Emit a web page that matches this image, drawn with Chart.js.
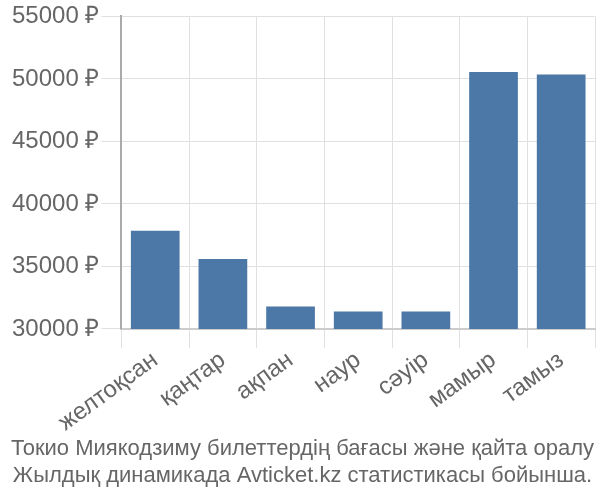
<!DOCTYPE html>
<html>
<head>
<meta charset="utf-8">
<script src="https://cdn.jsdelivr.net/npm/chart.js@4"></script>
<style>
  html, body { margin: 0; padding: 0; background: #fff; }
  #wrap { width: 600px; height: 500px; }
</style>
</head>
<body>
<div id="wrap"><canvas id="chart"></canvas></div>
<script>
const months = ["желтоқсан", "қаңтар", "ақпан", "наур", "сәуір", "мамыр", "тамыз"];
const prices = [37850, 35600, 31800, 31400, 31400, 50550, 50350];
const titleLines = [
  "Токио Миякодзиму билеттердің бағасы және қайта оралу",
  "Жылдық динамикада Avticket.kz статистикасы бойынша.",
];

const TEXT = "#666";
const GRID = "#e0e0e0";

new Chart(document.getElementById("chart"), {
  type: "bar",
  data: {
    labels: months,
    datasets: [
      {
        data: prices,
        backgroundColor: "#4c78a8",
        borderColor: "#4c78a8",
        borderWidth: 0,
        categoryPercentage: 0.9,
        barPercentage: 0.8,
      },
    ],
  },
  options: {
    responsive: true,
    maintainAspectRatio: false,
    animation: false,
    layout: { padding: { left: 10, right: 5, top: 5, bottom: 0 } },
    plugins: {
      legend: { display: false },
      tooltip: { enabled: false },
      title: {
        display: true,
        position: "bottom",
        text: titleLines,
        color: TEXT,
        font: { family: "Liberation Sans", size: 22, weight: "normal", lineHeight: 1.22 },
        padding: { top: 0, bottom: 11 },
      },
    },
    scales: {
      x: {
        grid: { color: GRID, tickLength: 19, offset: true },
        border: { color: "#ccc", width: 2 },
        ticks: {
          color: TEXT,
          font: { family: "Liberation Sans", size: 24 },
          maxRotation: 36,
          minRotation: 36,
          padding: -2,
        },
      },
      y: {
        min: 30000,
        max: 55000,
        grid: { color: GRID, tickLength: 20 },
        border: { color: "#aaa", width: 2 },
        ticks: {
          stepSize: 5000,
          color: TEXT,
          font: { family: "Liberation Sans", size: 24 },
          padding: 2,
          callback: (value) => `${value} ₽`,
        },
      },
    },
  },
});
</script>
</body>
</html>
